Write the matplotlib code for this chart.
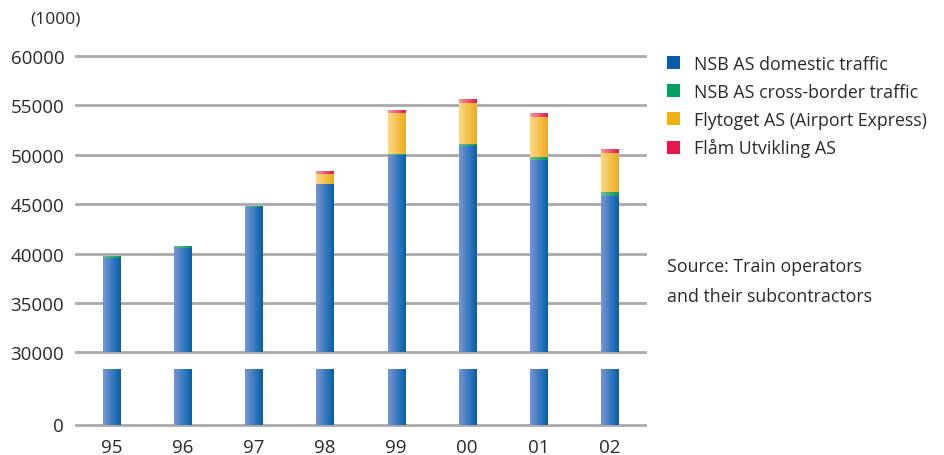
import numpy as np
import matplotlib
matplotlib.use('Agg')
import matplotlib.pyplot as plt
from matplotlib.colors import LinearSegmentedColormap
from matplotlib.patches import Patch

plt.rcParams['font.family'] = ['Open Sans', 'DejaVu Sans']

years = ['95', '96', '97', '98', '99', '00', '01', '02']
domestic = [39500, 40550, 44750, 47000, 50000, 50900, 49500, 45800]
cross_border = [150, 200, 100, 50, 100, 200, 300, 400]
flytoget = [0, 0, 0, 1000, 4100, 4100, 4050, 4000]
flaam = [0, 0, 0, 300, 300, 400, 380, 400]

series = [
    ('NSB AS domestic traffic', domestic, '#7c94d0', '#0061ad', '#0a5cab'),
    ('NSB AS cross-border traffic', cross_border, '#6cc094', '#00975a', '#00a060'),
    ('Flytoget AS (Airport Express)', flytoget, '#f8d98c', '#eeac18', '#f0b10f'),
    ('Flåm Utvikling AS', flaam, '#f59aa0', '#e8174f', '#e8174f'),
]
text_col = '#2a2a2a'
grid_col = '#a9a9ab'

fig = plt.figure(figsize=(9.45, 4.56), dpi=100)
ax = fig.add_axes([76 / 945, 102.7 / 456, 569 / 945, 306.2 / 456])
ax2 = fig.add_axes([76 / 945, 30.5 / 456, 569 / 945, 55.5 / 456])

x = np.arange(len(years))
w = 0.24

ax.set_xlim(-0.5, 7.5)
ax.set_ylim(30000, 61000)
ax2.set_xlim(-0.5, 7.5)
ax2.set_ylim(0, 5000)


def grad_bars(a, bars, c1, c2):
    # horizontal light-to-dark gradient, cut to the visible part of the axes
    cmap = LinearSegmentedColormap.from_list('g', [c1, c2])
    g = np.linspace(0, 1, 64).reshape(1, -1)
    lo, hi = a.get_ylim()
    for b in bars:
        y0 = max(b.get_y(), lo)
        y1 = min(b.get_y() + b.get_height(), hi)
        if y1 <= y0:
            continue
        a.imshow(g, cmap=cmap, aspect='auto', interpolation='bilinear',
                 extent=[b.get_x(), b.get_x() + b.get_width(), y0, y1],
                 zorder=3)


bottom = np.zeros(len(years))
for name, vals, c1, c2, solid in series:
    vals = np.array(vals, dtype=float)
    bars = ax.bar(x, vals, w, bottom=bottom, color=solid, zorder=2,
                  edgecolor='none')
    grad_bars(ax, bars, c1, c2)
    bottom = bottom + vals

# lower part of the broken axis: only the domestic stub
low = ax2.bar(x, domestic, w, color='#0a5cab', zorder=2, edgecolor='none')
grad_bars(ax2, low, '#7c94d0', '#0061ad')

ax.set_xlim(-0.5, 7.5)
ax.set_ylim(30000, 61000)
ax2.set_xlim(-0.5, 7.5)
ax2.set_ylim(0, 5000)

ticks = [30000, 35000, 40000, 45000, 50000, 55000, 60000]
for t in ticks:
    ax.axhline(t, color=grid_col, lw=2, zorder=1, clip_on=False)
ax2.axhline(0, color=grid_col, lw=2, zorder=1, clip_on=False)

ax.set_yticks(ticks)
ax.set_yticklabels([str(t) for t in ticks])
ax.set_xticks([])
ax2.set_yticks([0])
ax2.set_yticklabels(['0'])
ax2.set_xticks(x)
ax2.set_xticklabels(years)

for a in (ax, ax2):
    for s in a.spines.values():
        s.set_visible(False)
    a.tick_params(length=0, labelsize=13.5, colors=text_col)
    a.tick_params(axis='y', pad=8.5)
    a.patch.set_alpha(0)
ax2.tick_params(axis='x', pad=10)

fig.text(55 / 945, 1 - 19 / 456, '(1000)', fontsize=12.5, color=text_col,
         ha='center', va='center')

handles = [Patch(facecolor=s[4], edgecolor='none') for s in series]
fig.legend(handles, [s[0] for s in series], loc='upper left',
           bbox_to_anchor=(660 / 945, 1 - 49 / 456), frameon=False,
           fontsize=12.8, labelcolor=text_col, handlelength=0.75,
           handleheight=0.75, handletextpad=0.75, labelspacing=0.55,
           borderaxespad=0)

fig.text(667 / 945, 1 - 267 / 456, 'Source: Train operators',
         fontsize=12.8, color=text_col, va='center')
fig.text(667 / 945, 1 - 297 / 456, 'and their subcontractors',
         fontsize=12.8, color=text_col, va='center')

fig.savefig('out.png', dpi=100, facecolor='white')
